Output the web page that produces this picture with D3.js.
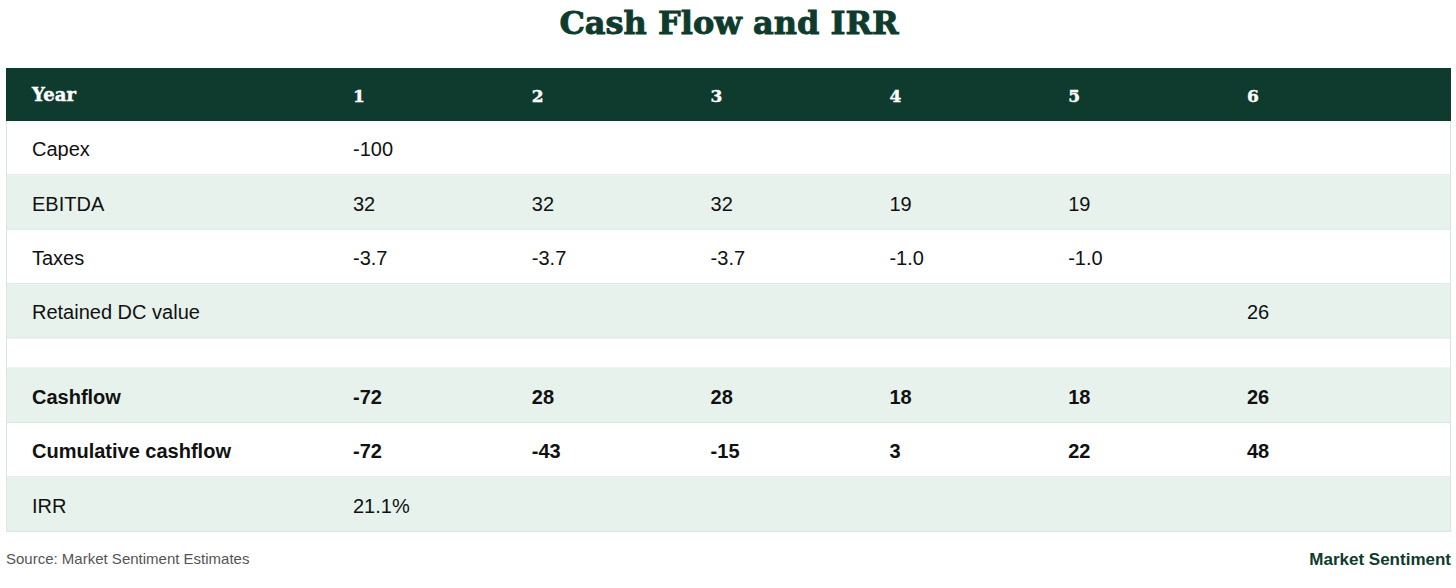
<!DOCTYPE html>
<html>
<head>
<meta charset="utf-8">
<script src="https://cdn.jsdelivr.net/npm/d3@7"></script>
<style>
  body { margin: 0; background: #fff; }
  svg { display: block; }
</style>
</head>
<body>
<svg id="draw"></svg>
<script>
// table content
var years = ["1", "2", "3", "4", "5", "6"];
var rowLabels = ["Capex", "EBITDA", "Taxes", "Retained DC value", "", "Cashflow", "Cumulative cashflow", "IRR"];
var capex = ["-100", "", "", "", "", ""];
var ebitda = ["32", "32", "32", "19", "19", ""];
var taxes = ["-3.7", "-3.7", "-3.7", "-1.0", "-1.0", ""];
var retained = ["", "", "", "", "", "26"];
var spacer = ["", "", "", "", "", ""];
var cashflow = ["-72", "28", "28", "18", "18", "26"];
var cumulative = ["-72", "-43", "-15", "3", "22", "48"];
var irr = ["21.1%", "", "", "", "", ""];
var boldRows = ["Cashflow", "Cumulative cashflow"];

var rowValues = [capex, ebitda, taxes, retained, spacer, cashflow, cumulative, irr];

var W = 1456, H = 588;
var left = 6, right = 1451;
var headTop = 68, headH = 53;
var rowH = 54.4, spacerH = 30;
var green = "#0e3b2d";
var tint = "#e8f2ed";
var line = "#d6e7df";
var serif = "'DejaVu Serif', Georgia, serif";
var sans = "'Liberation Sans', Arial, Helvetica, sans-serif";

var svg = d3.select("#draw").attr("width", W).attr("height", H);

svg.append("text")
  .attr("x", 729)
  .attr("y", 34)
  .attr("text-anchor", "middle")
  .attr("font-family", serif)
  .attr("font-weight", "bold")
  .attr("font-size", 32)
  .attr("fill", green)
  .attr("stroke", green)
  .attr("stroke-width", 0.9)
  .text("Cash Flow and IRR");

// columns
var xScale = d3.scaleBand()
  .domain(years)
  .range([353, 353 + 6 * 178.8]);
var labelX = 32;

// row tops
var rows = [];
var y = headTop + headH;
rowLabels.forEach(function(label, i) {
  var h = label === "" ? spacerH : rowH;
  rows.push({ label: label, values: rowValues[i], y: y, h: h, tinted: [1, 3, 5, 7].indexOf(i) >= 0 });
  y += h;
});
var tableBottom = y;

// header
svg.append("rect")
  .attr("x", left)
  .attr("y", headTop)
  .attr("width", right - left)
  .attr("height", headH)
  .attr("fill", green);

svg.append("text")
  .attr("x", labelX)
  .attr("y", headTop + headH / 2)
  .attr("dy", "0.35em")
  .attr("font-family", serif)
  .attr("font-weight", "bold")
  .attr("font-size", 18)
  .attr("fill", "#fff")
  .attr("stroke", "#fff")
  .attr("stroke-width", 0.4)
  .text("Year");

svg.selectAll(".yr")
  .data(years)
  .enter().append("text")
  .attr("class", "yr")
  .attr("x", function(d) { return xScale(d); })
  .attr("y", headTop + headH / 2 + 2)
  .attr("dy", "0.35em")
  .attr("font-family", serif)
  .attr("font-weight", "bold")
  .attr("font-size", 17)
  .attr("fill", "#fff")
  .attr("stroke", "#fff")
  .attr("stroke-width", 0.4)
  .text(function(d) { return d; });

// body rows
var g = svg.selectAll(".row")
  .data(rows)
  .enter().append("g")
  .attr("class", "row")
  .attr("transform", function(d) { return "translate(0," + d.y + ")"; });

g.append("rect")
  .attr("x", left)
  .attr("width", right - left)
  .attr("height", function(d) { return d.h; })
  .attr("fill", function(d) { return d.tinted ? tint : "#fff"; });

g.append("line")
  .attr("x1", left)
  .attr("x2", right)
  .attr("y1", function(d) { return d.h - 0.5; })
  .attr("y2", function(d) { return d.h - 0.5; })
  .attr("stroke", line);

g.append("text")
  .attr("x", labelX)
  .attr("y", function(d) { return d.h / 2 + 1; })
  .attr("dy", "0.35em")
  .attr("font-family", sans)
  .attr("font-size", 20)
  .attr("font-weight", function(d) { return boldRows.indexOf(d.label) >= 0 ? "bold" : "normal"; })
  .attr("fill", "#111")
  .text(function(d) { return d.label; });

g.each(function(r) {
  d3.select(this).selectAll(".cell")
    .data(r.values)
    .enter().append("text")
    .attr("class", "cell")
    .attr("x", function(d, i) { return xScale(years[i]); })
    .attr("y", r.h / 2 + 1)
    .attr("dy", "0.35em")
    .attr("font-family", sans)
    .attr("font-size", 20)
    .attr("font-weight", boldRows.indexOf(r.label) >= 0 ? "bold" : "normal")
    .attr("fill", "#111")
    .text(function(d) { return d; });
});

// side borders
[left + 0.5, right - 0.5].forEach(function(x) {
  svg.append("line")
    .attr("x1", x).attr("x2", x)
    .attr("y1", headTop + headH).attr("y2", tableBottom)
    .attr("stroke", line);
});

// footer
svg.append("text")
  .attr("x", left)
  .attr("y", 564)
  .attr("font-family", sans)
  .attr("font-size", 15)
  .attr("fill", "#555")
  .text("Source: Market Sentiment Estimates");

svg.append("text")
  .attr("x", right)
  .attr("y", 565)
  .attr("text-anchor", "end")
  .attr("font-family", sans)
  .attr("font-weight", "bold")
  .attr("font-size", 17)
  .attr("fill", green)
  .text("Market Sentiment");
</script>
</body>
</html>
